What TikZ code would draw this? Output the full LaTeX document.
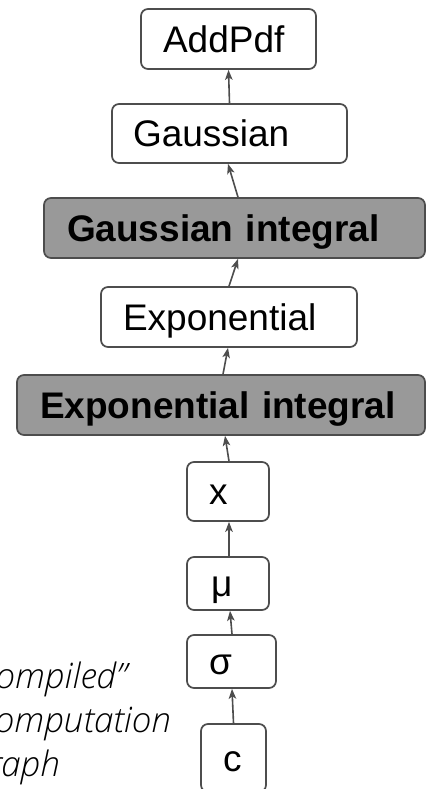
\documentclass[tikz,border=0pt]{standalone}
\usepackage{fontspec}
\setmainfont{Liberation Sans}
\newfontfamily\notefont{Open Sans Light Italic}
\usetikzlibrary{arrows.meta}
\definecolor{edge}{HTML}{4D4D4D}
\definecolor{shade}{HTML}{999999}

\begin{document}
\begin{tikzpicture}[x=1pt, y=-1pt,
  opbox/.style={draw=edge, line width=1.7pt, rounded corners=7pt, fill=white,
    inner xsep=22pt, inner ysep=0pt, align=left,
    text height=26.6pt, text depth=0pt,
    font=\fontsize{37}{44}\selectfont},
  intbox/.style={opbox, fill=shade, font=\fontsize{37}{44}\selectfont\bfseries},
  conn/.style={draw=edge, line width=1.6pt, -{Stealth[length=10pt, width=7.5pt, inset=2.5pt]}},
  noteline/.style={anchor=base east, inner sep=0pt, font=\fontsize{35}{43.5}\selectfont\notefont}
]
\useasboundingbox (0,0) rectangle (426,789);

% operation nodes, top to bottom
\node[opbox, text width=131pt, minimum height=60pt] (addpdf) at (228.5,39) {AddPdf};
\node[opbox, text width=193pt, inner xsep=21pt, minimum height=59pt] (gauss) at (229.5,133.5) {Gaussian};
\node[intbox, text width=335pt, inner xsep=23pt, minimum height=60pt] (gint) at (234.5,228) {Gaussian integral};
\node[opbox, text width=212pt, minimum height=60pt] (expo) at (229,317) {Exponential};
\node[intbox, text width=362pt, inner xsep=23pt, minimum height=60pt] (eint) at (221,405) {Exponential integral};
\node[opbox, text width=38pt, minimum height=59pt] (xvar) at (228,491.5) {x};
\node[opbox, text width=34pt, inner xsep=24pt, minimum height=53pt] (mu) at (228,583.5) {μ};
\node[opbox, text width=45pt, minimum height=53pt] (sigma) at (231.5,661.5) {σ};
\node[opbox, text width=21pt, minimum height=68pt] (cnode) at (233.5,758) {c};

% data flow, bottom to top
\draw[conn] (cnode.north) -- ([xshift=0.5pt]sigma.south);
\draw[conn] ([xshift=0.5pt]sigma.north) -- ([xshift=2pt]mu.south);
\draw[conn] ([xshift=1pt]mu.north) -- ([xshift=1pt]xvar.south);
\draw[conn] ([xshift=1pt]xvar.north) -- ([xshift=4pt]eint.south);
\draw[conn] ([xshift=2pt]eint.north) -- ([xshift=-1pt]expo.south);
\draw[conn] (expo.north) -- ([xshift=3.5pt]gint.south);
\draw[conn] ([xshift=3.5pt]gint.north) -- ([xshift=-1.5pt]gauss.south);
\draw[conn] (gauss.north) -- (addpdf.south);

% caption, running off the left edge
\node[noteline] (note1) at (127,688) {“Compiled”};
\node[noteline] (note2) at (171,732) {computation};
\node[noteline] (note3) at (60,776) {graph};
\end{tikzpicture}
\end{document}
